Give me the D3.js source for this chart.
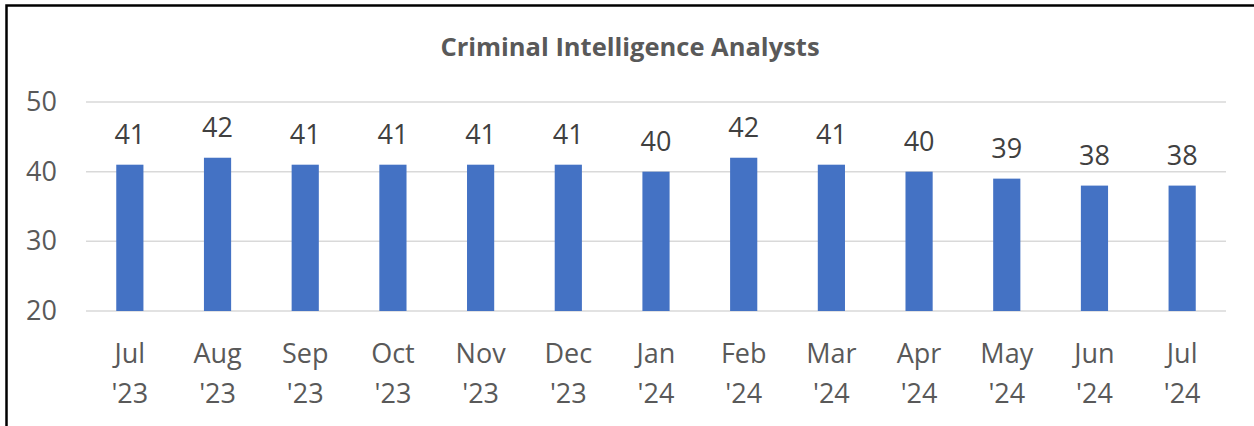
<!DOCTYPE html>
<html>
<head>
<meta charset="utf-8">
<script src="https://cdn.jsdelivr.net/npm/d3@7"></script>
<style>
  body { margin: 0; background: #fff; }
  svg { display: block; font-family: "Open Sans", "Noto Sans", sans-serif; }
</style>
</head>
<body>
<div id="chart"></div>
<script>
// data
var months = ["Jul", "Aug", "Sep", "Oct", "Nov", "Dec", "Jan", "Feb", "Mar", "Apr", "May", "Jun", "Jul"];
var years = ["'23", "'23", "'23", "'23", "'23", "'23", "'24", "'24", "'24", "'24", "'24", "'24", "'24"];
var analysts = [41, 42, 41, 41, 41, 41, 40, 42, 41, 40, 39, 38, 38];
var yTicks = [20, 30, 40, 50];

var W = 1254, H = 426;
var margin = {top: 102, right: 28, bottom: 115, left: 86};
var width = W - margin.left - margin.right;
var height = H - margin.top - margin.bottom;

var svg = d3.select("#chart")
    .append("svg")
        .attr("width", W)
        .attr("height", H);

// outer frame (only top and left visible in the picture)
svg.append("rect")
    .attr("x", 6.5).attr("y", 5.5)
    .attr("width", W + 20).attr("height", H + 20)
    .style("fill", "none")
    .style("stroke", "#000")
    .style("stroke-width", 2.5);

svg.append("text")
    .attr("x", 630).attr("y", 56)
    .attr("text-anchor", "middle")
    .style("font-size", "25.5px")
    .style("font-weight", "bold")
    .style("fill", "#595959")
    .text("Criminal Intelligence Analysts");

var g = svg.append("g")
    .attr("transform", "translate(" + margin.left + "," + margin.top + ")");

var keys = d3.range(months.length);

var x = d3.scaleBand()
    .domain(keys)
    .range([0, width])
    .paddingInner(0.69)
    .paddingOuter(0.345);

var y = d3.scaleLinear()
    .domain([20, 50])
    .range([height, 0]);

// gridlines
g.append("g")
    .selectAll("line")
    .data(yTicks)
    .enter()
    .append("line")
    .attr("x1", 0).attr("x2", width)
    .attr("y1", function(d){ return y(d); })
    .attr("y2", function(d){ return y(d); })
    .style("stroke", "#d9d9d9")
    .style("stroke-width", 1.5);

// y axis labels
var yAxis = g.append("g")
    .call(d3.axisLeft(y).tickValues(yTicks).tickSize(0).tickPadding(29));
yAxis.select(".domain").remove();
yAxis.selectAll("text")
    .style("font-size", "27px")
    .style("font-family", "\"Open Sans\", \"Noto Sans\", sans-serif")
    .style("fill", "#595959");

// bars
g.selectAll(".stolpe")
    .data(analysts)
    .enter()
    .append("rect")
    .attr("class", "stolpe")
    .attr("x", function(d, i){ return x(i); })
    .attr("y", function(d){ return y(d); })
    .attr("width", x.bandwidth())
    .attr("height", function(d){ return height - y(d); })
    .style("fill", "#4472C4");

// value labels
g.selectAll(".val")
    .data(analysts)
    .enter()
    .append("text")
    .attr("class", "val")
    .attr("x", function(d, i){ return x(i) + x.bandwidth() / 2; })
    .attr("y", function(d){ return y(d) - 21; })
    .attr("text-anchor", "middle")
    .style("font-size", "27px")
    .style("fill", "#404040")
    .text(function(d){ return d; });

// x axis labels, two lines
var xAxis = g.append("g")
    .attr("transform", "translate(0," + height + ")")
    .call(d3.axisBottom(x).tickSize(0).tickFormat(""));
xAxis.select(".domain").remove();
xAxis.selectAll(".tick").append("text")
    .attr("text-anchor", "middle")
    .style("font-size", "27px")
    .style("font-family", "\"Open Sans\", \"Noto Sans\", sans-serif")
    .style("fill", "#595959")
    .each(function(i){
        var t = d3.select(this);
        t.append("tspan").attr("x", 0).attr("y", 52).text(months[i]);
        t.append("tspan").attr("x", 0).attr("y", 92).text(years[i]);
    });
</script>
</body>
</html>
